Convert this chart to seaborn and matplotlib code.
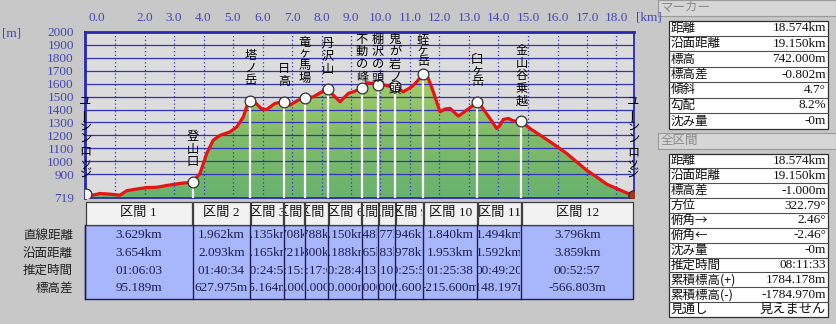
import numpy as np
import pandas as pd
import matplotlib
matplotlib.use("Agg")
import matplotlib.pyplot as plt
import seaborn as sns
from matplotlib.transforms import IdentityTransform, Bbox, ScaledTranslation
from matplotlib.patches import Rectangle
from matplotlib.path import Path
from matplotlib.colors import LinearSegmentedColormap

# ---------------- data ----------------
dist_km = [0.000, 0.26, 0.49, 0.83, 1.17, 1.40, 1.74, 2.07, 2.41, 2.75, 3.20, 3.54, 3.629,
           3.88, 4.11, 4.33, 4.56, 4.90, 5.13, 5.35, 5.46, 5.591,
           5.76, 5.97, 6.14, 6.42, 6.726,
           6.93, 7.21, 7.434,
           7.72, 8.01, 8.222,
           8.40, 8.63, 8.91, 9.08, 9.372,
           9.53, 9.76, 9.920,
           10.15, 10.38, 10.497,
           10.77, 11.06, 11.23, 11.443,
           11.62, 11.79, 12.02, 12.19, 12.36, 12.64, 12.92, 13.283,
           13.43, 13.71, 13.94, 14.05, 14.16, 14.33, 14.50, 14.777,
           15.07, 15.41, 15.75, 16.03, 16.31, 16.65, 16.99, 17.33, 17.67, 18.01, 18.35, 18.574]
elev_m = [743, 738, 750, 745, 737, 772, 785, 796, 798, 812, 828, 836, 838,
          905, 1060, 1163, 1200, 1227, 1266, 1343, 1421, 1466,
          1452, 1405, 1400, 1447, 1461,
          1434, 1473, 1486,
          1498, 1537, 1556,
          1512, 1460, 1525, 1537, 1566,
          1607, 1602, 1588,
          1589, 1576, 1580,
          1537, 1576, 1615, 1672.6,
          1641, 1537, 1382, 1405, 1408, 1349, 1395, 1457,
          1421, 1331, 1253, 1279, 1323, 1331, 1312, 1308.8,
          1253, 1202, 1150, 1106, 1060, 995, 930, 878, 822, 788, 754, 742]

marker_names = ["ユーシンロッジ", "登山口", "塔ノ岳", "日高", "竜ヶ馬場", "丹沢山", "不動の峰",
                "棚沢の頭", "鬼が岩ノ頭", "蛭ヶ岳", "臼ヶ岳", "金山谷乗越", "ユーシンロッジ"]
section_names = ["区間 %d" % i for i in range(1, 13)]
section_straight_km = [3.629, 1.962, 1.135, 0.708, 0.788, 1.150, 0.548, 0.577, 0.946, 1.840, 1.494, 3.796]
section_surface_km = [3.654, 2.093, 1.165, 0.721, 0.800, 1.188, 0.565, 0.583, 0.978, 1.953, 1.592, 3.859]
section_time = ["01:06:03", "01:40:34", "00:24:55", "00:15:50", "00:17:05", "00:28:45",
                "00:13:40", "00:10:50", "00:25:56", "01:25:38", "00:49:20", "00:52:57"]
section_diff_m = [95.189, 627.975, -5.164, 25.000, 70.000, 10.000, 22.000, -8.000, 92.600,
                  -215.600, -148.197, -566.803]
row_labels = ["直線距離", "沿面距離", "推定時間", "標高差"]

x_ticks = [0, 2, 3, 4, 5, 6, 7, 8, 9, 10, 11, 12, 13, 14, 15, 16, 17, 18]
y_ticks = [719, 900, 1000, 1100, 1200, 1300, 1400, 1500, 1600, 1700, 1800, 1900, 2000]

marker_panel_labels = ["距離", "沿面距離", "標高", "標高差", "傾斜", "勾配", "沈み量"]
marker_panel_values = ["18.574km", "19.150km", "742.000m", "-0.802m", "4.7°", "8.2%", "-0m"]
total_panel_labels = ["距離", "沿面距離", "標高差", "方位", "俯角→", "俯角←", "沈み量",
                      "推定時間", "累積標高(+)", "累積標高(-)", "見通し"]
total_panel_values = ["18.574km", "19.150km", "-1.000m", "322.79°", "2.46°", "-2.46°", "-0m",
                      "08:11:33", "1784.178m", "-1784.970m", "見えません"]

# ---------------- style ----------------
JP = ["Noto Sans CJK JP", "DejaVu Sans"]
NUM = ["Liberation Serif", "Noto Sans CJK JP", "DejaVu Sans"]
plt.rcParams["font.family"] = JP
BG = "#c8c8c8"
PLOT_BG = "#dcdcdc"
BLUE = "#3232c0"
TICK_BLUE = "#4646b4"
W, H = 836, 324
PX = IdentityTransform()

df = pd.DataFrame({"km": dist_km, "elev": elev_m})
mk_km = np.concatenate([[0.0], np.cumsum(section_straight_km)])
mk_km[-1] = dist_km[-1]
mk_el = np.interp(mk_km, dist_km, elev_m)
mdf = pd.DataFrame({"km": mk_km, "elev": mk_el})

fig = plt.figure(figsize=(W / 100, H / 100), dpi=100, facecolor=BG)
AX_L, AX_R, AX_T, AX_B = 85, 634, 32, 197.5
ax = fig.add_axes([AX_L / W, 1 - AX_B / H, (AX_R - AX_L) / W, (AX_B - AX_T) / H])
ax.set_facecolor(PLOT_BG)
XMIN = -0.5 / 29.5
XMAX = (AX_R - 85.5) / 29.5
YMIN, YMAX = 719, 2000

# gradient fill under the profile
verts = [(dist_km[0], YMIN)] + list(zip(dist_km, elev_m)) + [(dist_km[-1], YMIN), (dist_km[0], YMIN)]
clip = Path(verts)
grad = np.linspace(0, 1, 256).reshape(-1, 1)
cmap = LinearSegmentedColormap.from_list("g", ["#68b26e", "#82bc6a", "#a6cf66"])
im = ax.imshow(grad, extent=[XMIN, XMAX, YMIN, 1700], origin="lower", aspect="auto",
               cmap=cmap, zorder=1)
im.set_clip_path(clip, ax.transData)

ax.set_xlim(XMIN, XMAX)
ax.set_ylim(YMIN, YMAX)

# grid
for yv in y_ticks[1:-1]:
    ax.axhline(yv, color=BLUE, lw=0.9, zorder=2)
for xv in range(1, 19):
    ax.axvline(xv, color=BLUE, lw=0.9, ls=(0, (1, 2)), zorder=2)

# vertical white lines at markers
ax.vlines(mk_km[1:-1], YMIN, mk_el[1:-1], color="white", lw=1.6, zorder=3)

sns.lineplot(data=df, x="km", y="elev", color="#e81414", lw=2.3, ax=ax, zorder=4,
             sort=False, estimator=None)
sns.scatterplot(data=mdf.iloc[:-1], x="km", y="elev", s=60, color="white",
                edgecolor="#303030", linewidth=0.9, ax=ax, zorder=5)
sns.scatterplot(data=mdf.iloc[-1:], x="km", y="elev", s=45, color="#9a3a22", marker="o",
                edgecolor="#402018", linewidth=0.8, ax=ax, zorder=5)

ax.set_xlabel("")
ax.set_ylabel("")
for s in ax.spines.values():
    s.set_color("#2828b0")
    s.set_linewidth(1.3)
ax.spines["top"].set_linewidth(2)
ax.spines["left"].set_linewidth(2)

ax.xaxis.set_ticks_position("top")
ax.set_xticks(x_ticks)
ax.set_xticklabels(["%.1f" % v for v in x_ticks], fontfamily=NUM, fontsize=9.5, color=TICK_BLUE)
ax.tick_params(axis="x", length=0, pad=6)
lab0 = ax.get_xticklabels()[0]
lab0.set_transform(lab0.get_transform() + ScaledTranslation(0.115, 0, fig.dpi_scale_trans))
ax.set_yticks(y_ticks)
ax.set_yticklabels([str(v) for v in y_ticks], fontfamily=NUM, fontsize=9.5, color=TICK_BLUE)
ax.tick_params(axis="y", length=0, pad=8)

fig.text(2, H - 33, "[m]", transform=PX, ha="left", va="center", fontfamily=NUM,
         fontsize=9.5, color=TICK_BLUE)
fig.text(636, H - 17, "[km]", transform=PX, ha="left", va="center", fontfamily=NUM,
         fontsize=9.5, color=TICK_BLUE)

# ---------------- vertical marker labels ----------------
SMALL = set("ヶッャュョァィゥェォ")
PITCH, SPITCH = 12.6, 10.0


def char_pitch(ch):
    return SPITCH if ch in SMALL else PITCH


def vtext(xc, top, text, size=8.8):
    y = top
    for ch in text:
        p = char_pitch(ch)
        rot = 90 if ch == "ー" else 0
        fig.text(xc, H - (y + p / 2), ch, transform=PX, ha="center", va="center",
                 rotation=rot, fontsize=size, color="black", fontfamily=JP, zorder=6)
        y += p


fig.canvas.draw()
disp = ax.transData.transform(np.column_stack([mk_km, mk_el]))
mk_px = [(d[0], H - d[1]) for d in disp]
for name, (xp, yp) in zip(marker_names, mk_px):
    hgt = sum(char_pitch(c) for c in name)
    bottom = yp - 14
    top = bottom - hgt
    if top < 33:
        top = 33
    vtext(xp, top, name)

# ---------------- section table ----------------
col_x = [85] + [p[0] for p in mk_px[1:-1]] + [633]
HEAD_T, HEAD_B, BODY_B = 201.5, 224.5, 298.5
row_y = [235.5, 253.0, 270.5, 288.0]
NAVY = "#1e1e50"


def rect(x0, y0, x1, y1, **kw):
    fig.add_artist(Rectangle((x0, H - y1), x1 - x0, y1 - y0, transform=PX, **kw))


rect(85, HEAD_B, 633, BODY_B, facecolor="#a8b6fc", edgecolor=NAVY, lw=1.0, zorder=2)
values_rows = [["%.3fkm" % v for v in section_straight_km],
               ["%.3fkm" % v for v in section_surface_km],
               section_time,
               ["%.3fm" % v for v in section_diff_m]]
for i in range(12):
    x0, x1 = col_x[i], col_x[i + 1]
    rect(x0 + 0.5, HEAD_T, x1 - 0.5, HEAD_B, facecolor="#f2f2f2", edgecolor="#404040",
         lw=0.9, zorder=2)
    fig.add_artist(plt.Line2D([x0, x0], [H - HEAD_B, H - BODY_B], transform=PX,
                              color=NAVY, lw=1.0, zorder=3))
    cb = Bbox.from_extents(x0 + 1, H - HEAD_B + 1, x1 - 1, H - HEAD_T - 1)
    t = fig.text((x0 + x1) / 2, H - (HEAD_T + HEAD_B) / 2, section_names[i], transform=PX,
                 ha="center", va="center", fontsize=9.5, fontfamily=NUM, color="#101010",
                 clip_on=True, zorder=4)
    t.set_clip_box(cb)
    cb2 = Bbox.from_extents(x0 + 1, H - BODY_B, x1 - 1, H - HEAD_B)
    for r in range(4):
        t = fig.text((x0 + x1) / 2, H - row_y[r], values_rows[r][i], transform=PX,
                     ha="center", va="center", fontsize=9.5, fontfamily=NUM, color=NAVY,
                     clip_on=True, zorder=4)
        t.set_clip_box(cb2)
for r, lab in enumerate(row_labels):
    fig.text(73, H - row_y[r], lab, transform=PX, ha="right", va="center", fontsize=9,
             fontfamily=JP, color="#202020")

# ---------------- right panel ----------------


def header(y0, y1, text):
    rect(658, y0, 836, y1, facecolor="#d6d6d6", edgecolor="#9a9a9a", lw=0.8, zorder=2)
    fig.text(661, H - (y0 + y1) / 2, text, transform=PX, ha="left", va="center",
             fontsize=9, fontfamily=JP, color="#8a8a8a", zorder=3)


def panel(y0, y1, labels, values):
    n = len(labels)
    rh = (y1 - y0) / n
    rect(668.5, y0, 828, y1, facecolor="white", edgecolor="#303030", lw=0.9, zorder=2)
    for k in range(n):
        ya = y0 + k * rh
        if k > 0:
            fig.add_artist(plt.Line2D([668.5, 828], [H - ya, H - ya], transform=PX,
                                      color="#505050", lw=0.8, zorder=3))
        yc = ya + rh / 2
        fig.text(670.5, H - yc, labels[k], transform=PX, ha="left", va="center",
                 fontsize=9, fontfamily=JP, color="#101010", zorder=4)
        fig.text(826, H - yc, values[k], transform=PX, ha="right", va="center",
                 fontsize=9.5, fontfamily=NUM, color="#101010", zorder=4)


header(0, 15.5, "マーカー")
panel(20.5, 128.5, marker_panel_labels, marker_panel_values)
header(132.5, 149, "全区間")
panel(153.5, 317, total_panel_labels, total_panel_values)

fig.savefig("out.png", dpi=100, facecolor=BG)
